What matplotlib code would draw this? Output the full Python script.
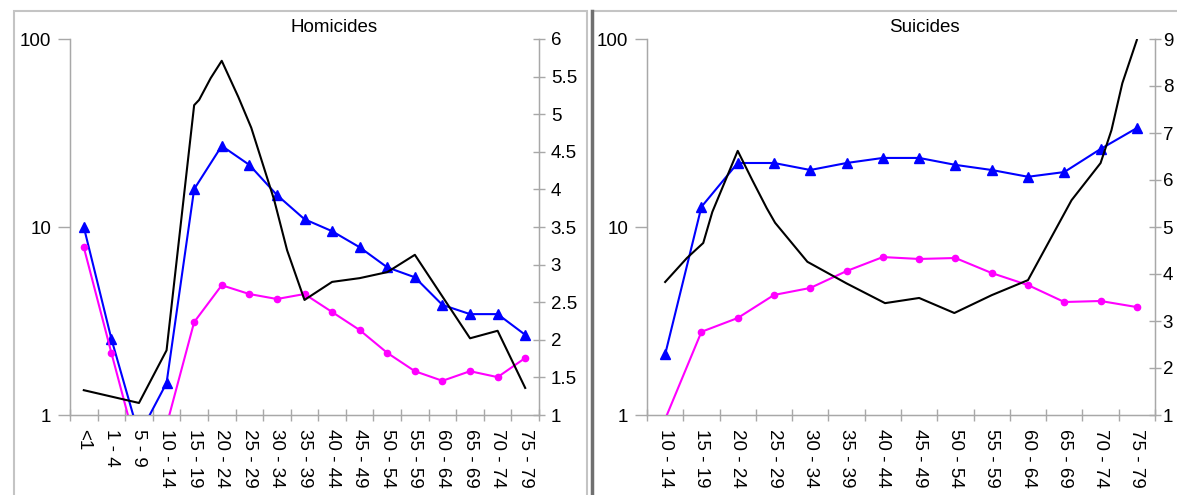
import matplotlib
matplotlib.use("Agg")
import matplotlib.pyplot as plt
from matplotlib.patches import Rectangle
from matplotlib.lines import Line2D
from matplotlib.ticker import FixedLocator, NullLocator, FixedFormatter

plt.rcParams['font.family'] = ['Liberation Sans', 'DejaVu Sans']

# ---------------- data ----------------
hom_ages = ["<1", "1 - 4", "5 - 9", "10 - 14", "15 - 19", "20 - 24", "25 - 29",
            "30 - 34", "35 - 39", "40 - 44", "45 - 49", "50 - 54", "55 - 59",
            "60 - 64", "65 - 69", "70 - 74", "75 - 79"]
hom_blue = [10.0, 2.54, 0.78, 1.48, 15.9, 27.0, 21.4, 14.8, 11.0, 9.5, 7.8,
            6.1, 5.4, 3.85, 3.44, 3.44, 2.67]
hom_magenta = [7.8, 2.14, 0.6, 0.88, 3.12, 4.9, 4.4, 4.14, 4.4, 3.53, 2.83,
               2.14, 1.71, 1.52, 1.71, 1.59, 2.01]
# black ratio series (right axis), sampled at its own age-index positions
hom_black_pos = [0, 2, 3, 4, 4.18, 4.6, 5, 5.6, 6.07, 6.9, 7.37, 8, 9, 10,
                 11, 12, 14, 15, 16]
hom_black = [1.33, 1.16, 1.86, 5.12, 5.19, 5.48, 5.71, 5.23, 4.82, 3.86, 3.19,
             2.53, 2.77, 2.82, 2.90, 3.13, 2.02, 2.12, 1.36]
hom_right_ticks = [1, 1.5, 2, 2.5, 3, 3.5, 4, 4.5, 5, 5.5, 6]

sui_ages = ["10 - 14", "15 - 19", "20 - 24", "25 - 29", "30 - 34", "35 - 39",
            "40 - 44", "45 - 49", "50 - 54", "55 - 59", "60 - 64", "65 - 69",
            "70 - 74", "75 - 79"]
sui_blue = [2.1, 12.8, 21.9, 21.9, 20.1, 21.9, 23.3, 23.3, 21.4, 20.1, 18.5,
            19.6, 26.0, 33.6]
sui_magenta = [0.95, 2.77, 3.28, 4.35, 4.74, 5.83, 6.92, 6.76, 6.84, 5.69,
               4.91, 3.99, 4.04, 3.75]
sui_black_pos = [0, 0.6, 1.05, 1.3, 2.0, 2.4, 2.8, 3.03, 3.92, 5.0, 6.06, 7.0,
                 7.97, 9.0, 10.0, 11.2, 12.0, 12.3, 12.6, 13.0]
sui_black = [3.83, 4.34, 4.66, 5.32, 6.62, 6.0, 5.4, 5.09, 4.26, 3.8, 3.38,
             3.49, 3.17, 3.55, 3.87, 5.57, 6.36, 7.06, 8.06, 8.98]
sui_right_ticks = [1, 2, 3, 4, 5, 6, 7, 8, 9]

left_ticks = [1, 10, 100]

# ---------------- figure ----------------
W, H = 1177, 495
fig = plt.figure(figsize=(W / 100, H / 100), dpi=100)
fig.patch.set_facecolor('white')

FS = 13.5


def px(x0, y0, x1, y1):
    return [x0 / W, 1 - y1 / H, (x1 - x0) / W, (y1 - y0) / H]


# panel frames
fig.add_artist(Rectangle((14 / W, -0.05), (587 - 14) / W, 1.05 - 11 / H,
                         transform=fig.transFigure, fill=False,
                         edgecolor='#C4C4C4', lw=1.5))
fig.add_artist(Rectangle((592 / W, -0.05), (1180 - 592) / W, 1.05 - 11 / H,
                         transform=fig.transFigure, fill=False,
                         edgecolor='#C4C4C4', lw=1.5))
fig.add_artist(Line2D([592 / W, 592 / W], [0, 1 - 11 / H],
                      transform=fig.transFigure, color='#707070', lw=2.5))

GREY = '#A8A8A8'
BLUE = '#0000FF'
MAG = '#FF00FF'


def panel(rect, ages, blue, mag, bpos, black, rticks, title, title_x, rpad):
    ax = fig.add_axes(rect)
    n = len(ages)
    xs = list(range(n))
    ax.set_yscale('log')
    ax.set_ylim(1, 100)
    ax.set_xlim(-0.5, n - 0.5)
    ax.plot(xs, blue, color=BLUE, lw=1.5, marker='^', ms=7, mec=BLUE,
            mfc=BLUE, zorder=3)
    ax.plot(xs, mag, color=MAG, lw=1.5, marker='o', ms=4.5, mec=MAG,
            mfc=MAG, zorder=3)
    ax.yaxis.set_major_locator(FixedLocator(left_ticks))
    ax.yaxis.set_major_formatter(FixedFormatter([str(t) for t in left_ticks]))
    ax.yaxis.set_minor_locator(NullLocator())
    ax.set_xticks(xs)
    ax.set_xticklabels(ages, rotation=270, va='top', ha='center', fontsize=FS)
    ax.set_xticks([i - 0.5 for i in range(n + 1)], minor=True)
    ax.tick_params(axis='x', which='major', length=0, pad=10)
    ax.tick_params(axis='x', which='minor', direction='inout', length=9,
                   color=GREY, width=1)
    ax.tick_params(axis='y', which='major', direction='out', length=8.5,
                   color=GREY, width=1, labelsize=FS, pad=5)
    ax.spines['top'].set_visible(False)
    for s in ['left', 'right', 'bottom']:
        ax.spines[s].set_color(GREY)
        ax.spines[s].set_linewidth(1.0)
    ax.patch.set_alpha(0)

    ax2 = ax.twinx()
    ax2.set_ylim(rticks[0], rticks[-1])
    ax2.plot(bpos, black, color='black', lw=1.5, zorder=2)
    ax2.set_yticks(rticks)
    ax2.set_yticklabels([('%g' % t) for t in rticks])
    ax2.tick_params(axis='y', direction='inout', length=9, color=GREY,
                    width=1, labelsize=FS, pad=rpad)
    ax2.spines['top'].set_visible(False)
    for s in ['left', 'right', 'bottom']:
        ax2.spines[s].set_color(GREY)
    fig.text(title_x / W, 1 - 28 / H, title, ha='center', va='center',
             fontsize=FS)
    return ax, ax2


panel(px(70, 39, 539, 415), hom_ages, hom_blue, hom_magenta, hom_black_pos,
      hom_black, hom_right_ticks, "Homicides", 334, 4)
panel(px(647, 39, 1155, 415), sui_ages, sui_blue, sui_magenta, sui_black_pos,
      sui_black, sui_right_ticks, "Suicides", 924, 1)

fig.savefig("out.png", dpi=100)
